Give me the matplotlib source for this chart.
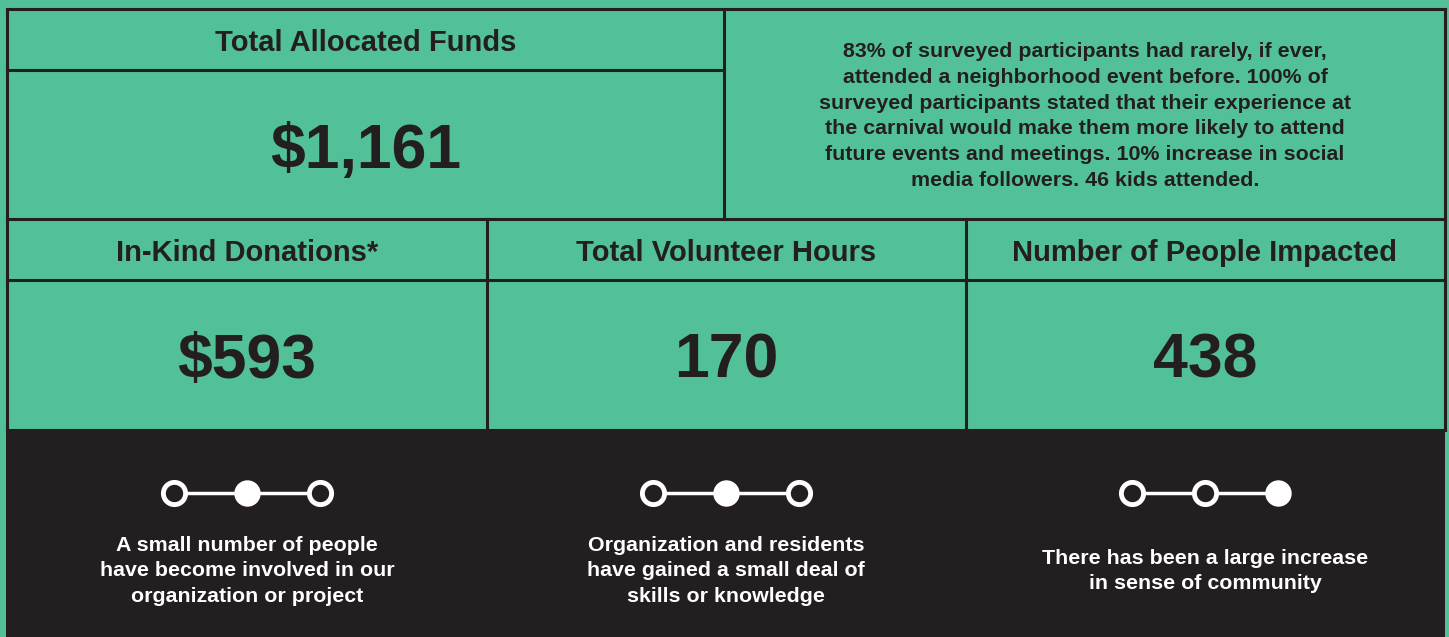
import matplotlib.pyplot as plt
from matplotlib.patches import Rectangle

plt.rcParams['font.family'] = ['Liberation Sans', 'DejaVu Sans']

green = '#52c197'
dark = '#231f20'

# content
top_title = 'Total Allocated Funds'
top_value = '$1,161'
summary = ('83% of surveyed participants had rarely, if ever,\n'
           'attended a neighborhood event before. 100% of\n'
           'surveyed participants stated that their experience at\n'
           'the carnival would make them more likely to attend\n'
           'future events and meetings. 10% increase in social\n'
           'media followers. 46 kids attended.')
stat_titles = ['In-Kind Donations*', 'Total Volunteer Hours', 'Number of People Impacted']
stat_values = ['$593', '170', '438']
levels = [2, 2, 3]   # which of the 3 dots is filled
level_texts = ['A small number of people\nhave become involved in our\norganization or project',
               'Organization and residents\nhave gained a small deal of\nskills or knowledge',
               'There has been a large increase\nin sense of community']

W, H = 1449, 637
fig = plt.figure(figsize=(W / 100, H / 100), dpi=100)
fig.patch.set_facecolor(green)
ax = fig.add_axes([0, 0, 1, 1])
ax.set_xlim(0, W)
ax.set_ylim(H, 0)
ax.axis('off')

L, R, T = 7, 1445, 9
lw = 2.2
kw = dict(color=dark, lw=lw, solid_capstyle='projecting')

# dark band at the bottom
ax.add_patch(Rectangle((L - 1, 430), R - L + 1, H - 430 + 5, facecolor=dark, edgecolor='none'))

# grid lines
ax.plot([L, R], [T, T], **kw)
ax.plot([L, L], [T, 430], **kw)
ax.plot([R, R], [T, 430], **kw)
ax.plot([L, 724], [70, 70], **kw)
ax.plot([L, R], [219, 219], **kw)
ax.plot([L, R], [280, 280], **kw)
ax.plot([L, R], [430, 430], **kw)
ax.plot([724, 724], [T, 219], **kw)
for x in [487, 966]:
    ax.plot([x, x], [219, 430], **kw)

# top row
ax.text(366, 51, top_title, ha='center', va='baseline', fontsize=21, fontweight='bold', color=dark)
ax.text(366, 168, top_value, ha='center', va='baseline', fontsize=45, fontweight='bold', color=dark)
ax.text(1085, 116, summary, ha='center', va='center', fontsize=15.4, fontweight='bold',
        color=dark, linespacing=1.45)

# stats row
centers = [247, 726, 1205]
for cx, t, v in zip(centers, stat_titles, stat_values):
    ax.text(cx, 261, t, ha='center', va='baseline', fontsize=21, fontweight='bold', color=dark)
    ax.text(cx, 378, v, ha='center', va='baseline', fontsize=45, fontweight='bold', color=dark)

# level indicators
for cx, lev, txt in zip(centers, levels, level_texts):
    xs = [cx - 73, cx, cx + 73]
    ax.plot(xs, [493] * 3, color='white', lw=2.5, zorder=3)
    for i, x in enumerate(xs):
        filled = (i + 1) == lev
        ax.plot(x, 493, 'o', ms=19 if filled else 16,
                mfc='white' if filled else dark, mec='white',
                mew=0 if filled else 3.5, zorder=4)
    ax.text(cx, 571, txt, ha='center', va='center',
            fontsize=15.4, fontweight='bold', color='white', linespacing=1.45)

fig.savefig('out.png', dpi=100, facecolor=green)
